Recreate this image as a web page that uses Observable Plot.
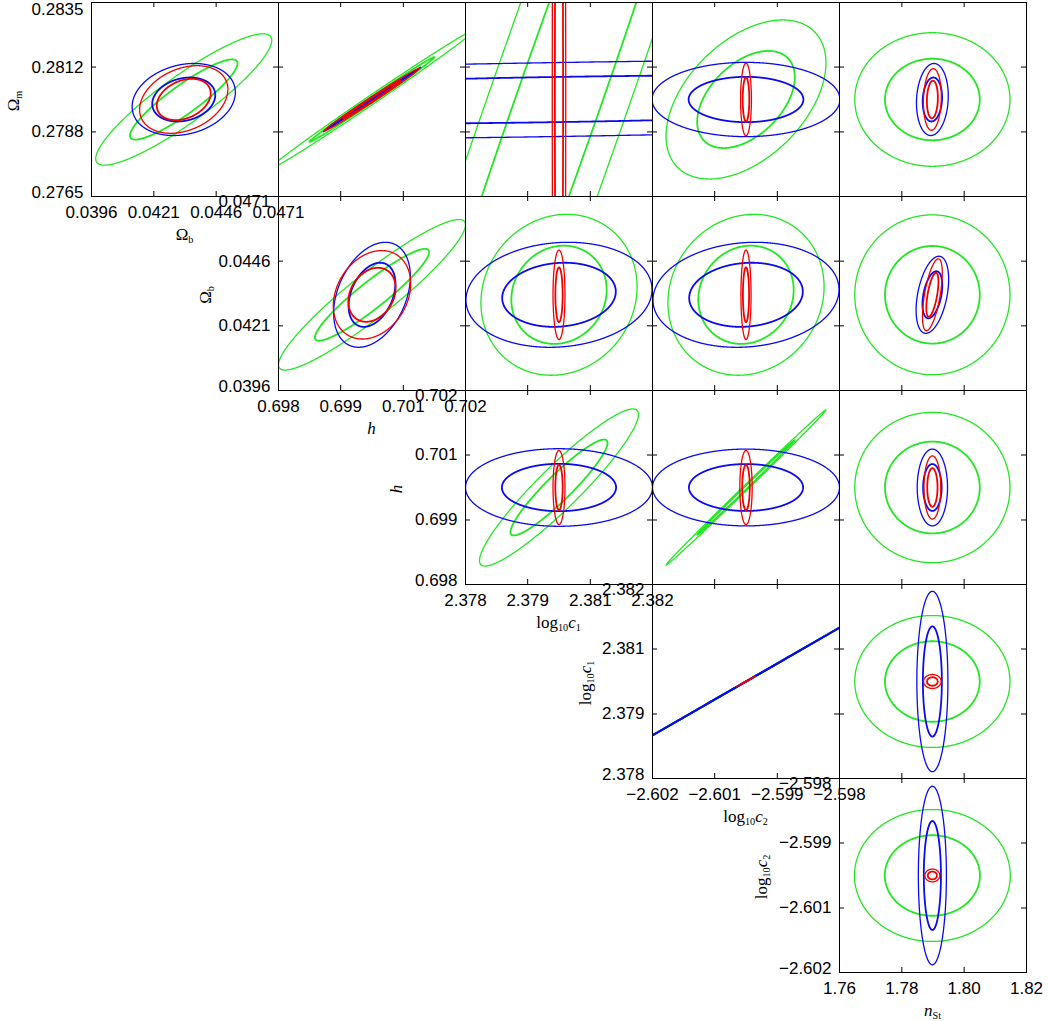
<!DOCTYPE html>
<html><head><meta charset="utf-8">
<script src="https://cdn.jsdelivr.net/npm/d3@7"></script>
<script src="https://cdn.jsdelivr.net/npm/@observablehq/plot@0.6"></script>
<style>
body{margin:0;background:#fff;}
#chart{position:relative;width:1048px;height:1021px;overflow:hidden;background:#fff;}
.lab{position:absolute;font-family:"Liberation Serif","Times New Roman",serif;font-size:17px;line-height:1;white-space:nowrap;transform:translate(-50%,-50%);color:#000;}
.lab.rot{transform:translate(-50%,-50%) rotate(-90deg);}
.lab sub{font-size:0.6em;vertical-align:-0.35em;line-height:0;}
</style></head><body><div id="chart"></div>
<script>
// ---- parameters ----
const axisLabels = ['Ω<sub>m</sub>', 'Ω<sub>b</sub>', '<i>h</i>', 'log<sub>10</sub><i>c</i><sub>1</sub>', 'log<sub>10</sub><i>c</i><sub>2</sub>', '<i>n</i><sub>St</sub>'];
const centers = [0.28, 0.0433, 0.70, 2.38, -2.60, 1.7898];
const rangeLo = [0.2765, 0.0396, 0.698, 2.378, -2.602, 1.76];
const rangeHi = [0.2835, 0.0471, 0.702, 2.382, -2.598, 1.82];
const ticksOm = [0.2765, 0.27883, 0.28117, 0.2835];
const ticksOb = [0.0396, 0.0421, 0.0446, 0.0471];
const ticksH = [0.698, 0.69933, 0.70067, 0.702];
const ticksC1 = [2.378, 2.37933, 2.38067, 2.382];
const ticksC2 = [-2.602, -2.60067, -2.59933, -2.598];
const ticksN = [1.76, 1.78, 1.80, 1.82];
const tickSets = [ticksOm, ticksOb, ticksH, ticksC1, ticksC2, ticksN];
const tickDigits = [4, 4, 3, 3, 3, 2];

// panels: row = y parameter, col = x parameter - 1
const panelRow = [0,0,0,0,0, 1,1,1,1, 2,2,2, 3,3, 4];
const panelCol = [0,1,2,3,4, 1,2,3,4, 2,3,4, 3,4, 4];

// outer (95%) contour half-extents in x (A) and y (B), and correlation
const greenA   = [0.00353, 0.00219, 0.00738, 0.00171, 0.0249, 0.0020, 0.00167, 0.00167, 0.0249, 0.0017, 0.00171, 0.0249, 0.004, 0.0249, 0.025];
const greenB   = [0.00237, 0.00251, 0.035, 0.00287, 0.00241, 0.00291, 0.00311, 0.00311, 0.00309, 0.00162, 0.0016, 0.00155, 0.00222, 0.00136, 0.00136];
const greenRho = [0.90, 0.997, 0.9778, 0.46, 0.0, 0.93, 0.1, 0.1, 0.0, 0.93, 0.999, 0.0, 0.999995, 0.0, 0.0];
const blueA    = [0.00207, 0.00104, 0.02, 0.00201, 0.0051, 0.00082, 0.00199, 0.00199, 0.00522, 0.002, 0.002, 0.00486, 0.004, 0.00498, 0.0045];
const blueB    = [0.0013, 0.00116, 0.00144, 0.00134, 0.0013, 0.00203, 0.00203, 0.00203, 0.00149, 0.0008, 0.000792, 0.000792, 0.00222, 0.00186, 0.00184];
const blueRho  = [0.2, 0.9995, 0.376, 0.0, 0.1, 0.35, 0.1, 0.1, 0.4, 0.0, 0.0, 0.0, 0.999995, 0.0, 0.0];
const redA     = [0.00177, 0.00101, 0.000144, 0.000116, 0.00288, 0.000828, 0.000128, 0.000108, 0.00318, 0.000128, 0.000132, 0.0027, 0.0002, 0.00282, 0.0024];
const redB     = [0.00122, 0.00112, 0.021, 0.00131, 0.00111, 0.00171, 0.00173, 0.00173, 0.00139, 0.000764, 0.000764, 0.000652, 0.000111, 0.000144, 0.000132];
const redRho   = [0.3, 0.995, 0.0, 0.0, 0.1, 0.25, 0.0, 0.0, 0.6, 0.0, 0.0, 0.0, 0.9995, 0.0, 0.0];
const contourLevels = [6.17, 2.30]; // delta chi^2 for 2-sigma and 1-sigma

// ---- layout ----
const colLeft = [91, 278, 465, 652, 839];
const rowTop = [2, 196, 390, 584, 778];
const PW = 187, PH = 194;
const yLabOff = [78, 73, 69, 67, 78];
const topLabelDy = [7, 5, 5, 5, 5];
const FONT = '"Liberation Sans", Arial, Helvetica, sans-serif';

const experiments = [
  {A: greenA, B: greenB, rho: greenRho, color: "#22e622"},
  {A: blueA, B: blueB, rho: blueRho, color: "#0a0af0"},
  {A: redA, B: redB, rho: redRho, color: "#f20000"}
];

function ellipse(cx, cy, A, B, rho, level) {
  const s = Math.sqrt(level / contourLevels[0]);
  const q = Math.sqrt(Math.max(0, 1 - rho * rho));
  const N = 1600;
  return d3.range(N + 1).map(i => {
    const t = i / N * 2 * Math.PI;
    return {x: cx + s * A * Math.cos(t), y: cy + s * B * (rho * Math.cos(t) + q * Math.sin(t))};
  });
}

const chart = document.getElementById("chart");

panelRow.forEach((r, k) => {
  const c = panelCol[k];
  const yp = r, xp = c + 1;
  const xT = tickSets[xp], yT = tickSets[yp];
  const inX = xT.slice(1, -1), inY = yT.slice(1, -1);
  const marks = [];
  experiments.forEach(e => {
    contourLevels.forEach((L, li) => {
      marks.push(Plot.line(ellipse(centers[xp], centers[yp], e.A[k], e.B[k], e.rho[k], L),
        {x: "x", y: "y", stroke: e.color, strokeWidth: li === 0 ? 1.3 : 1.8, clip: true}));
    });
  });
  marks.push(Plot.frame({stroke: "black", strokeWidth: 1}));
  marks.push(Plot.tickX(inX, {x: d => d, insetBottom: PH - 5, stroke: "black"}));
  marks.push(Plot.tickX(inX, {x: d => d, insetTop: PH - 5, stroke: "black"}));
  marks.push(Plot.tickY(inY, {y: d => d, insetRight: PW - 5, stroke: "black"}));
  marks.push(Plot.tickY(inY, {y: d => d, insetLeft: PW - 5, stroke: "black"}));
  if (r === c) {
    const fx = d3.format(`.${tickDigits[xp]}f`), fy = d3.format(`.${tickDigits[yp]}f`);
    const tOpt = {fontSize: 17, fontFamily: FONT, fill: "black"};
    marks.push(Plot.text(xT, {x: d => d, text: d => fx(d), frameAnchor: "bottom", lineAnchor: "top", dy: 9, ...tOpt}));
    marks.push(Plot.text(inY, {y: d => d, text: d => fy(d), frameAnchor: "left", textAnchor: "end", dx: -8, ...tOpt}));
    marks.push(Plot.text([yT[3]], {y: d => d, text: d => fy(d), frameAnchor: "left", textAnchor: "end", dx: -8, dy: topLabelDy[r], ...tOpt}));
    marks.push(Plot.text([yT[0]], {y: d => d, text: d => fy(d), frameAnchor: "left", textAnchor: "end", dx: -8, dy: -4, ...tOpt}));
  }
  const svg = Plot.plot({
    width: PW, height: PH, margin: 0,
    x: {domain: [rangeLo[xp], rangeHi[xp]], axis: null},
    y: {domain: [rangeLo[yp], rangeHi[yp]], axis: null},
    style: {background: "transparent", overflow: "visible"},
    marks
  });
  svg.style.position = "absolute";
  svg.style.left = colLeft[c] + "px";
  svg.style.top = rowTop[r] + "px";
  svg.style.overflow = "visible";
  svg.style.background = "transparent";
  chart.appendChild(svg);

  if (r === c) {
    const yl = document.createElement("div");
    yl.className = "lab rot";
    yl.innerHTML = axisLabels[yp];
    yl.style.left = (colLeft[c] - yLabOff[r]) + "px";
    yl.style.top = (rowTop[r] + PH / 2 + 2) + "px";
    chart.appendChild(yl);
    const xl = document.createElement("div");
    xl.className = "lab";
    xl.innerHTML = axisLabels[xp];
    xl.style.left = (colLeft[c] + PW / 2) + "px";
    xl.style.top = (rowTop[r] + PH + 38) + "px";
    chart.appendChild(xl);
  }
});
</script></body></html>
